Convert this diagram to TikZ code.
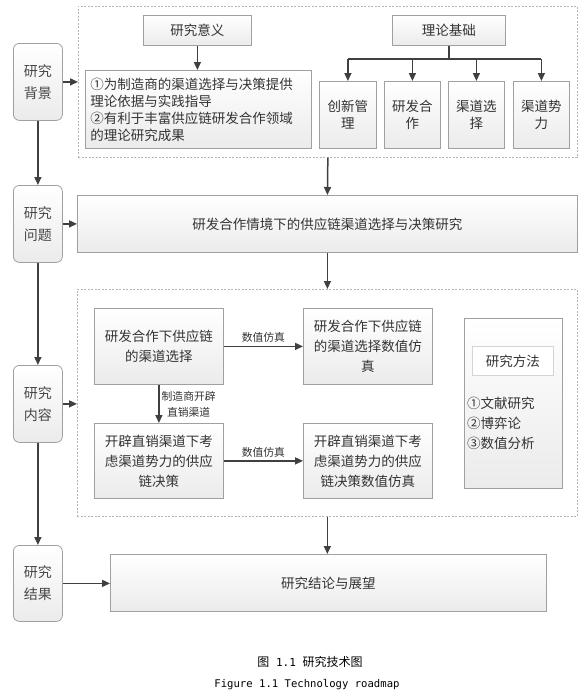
\documentclass[tikz,border=0pt]{standalone}
\usepackage{fontspec}
\setmainfont{Noto Sans CJK SC}
\newfontfamily\monof{DejaVu Sans Mono}
\usetikzlibrary{arrows.meta,shadings}
\definecolor{boxc}{HTML}{A0A0A0}
\definecolor{botc}{HTML}{EBEBEB}
\definecolor{txtc}{HTML}{333333}
\definecolor{arrc}{HTML}{404040}
\definecolor{dashc}{HTML}{B4B4B4}
\definecolor{innc}{HTML}{D4D4D4}
\newcommand\myfs[2]{\fontsize{#1}{#2}\selectfont}
\tikzset{
  gbox/.style={draw=boxc, line width=0.8pt, top color=white, bottom color=botc,
    inner sep=0pt, text=txtc, align=center, anchor=north west, font=\myfs{13.5}{20}},
  lbox/.style={gbox, rounded corners=6pt, font=\myfs{14}{22}, text=txtc!90!white},
  arr/.style={draw=arrc, line width=1.5pt, -{Triangle[length=8pt,width=7pt]}},
  plainline/.style={draw=arrc, line width=1.5pt},
  dbox/.style={draw=dashc, line width=0.7pt, dash pattern=on 2pt off 1.5pt,
    anchor=north west, inner sep=0pt},
  lab/.style={font=\myfs{10.8}{16}, text=txtc, inner sep=2pt, align=center}
}
\begin{document}
\begin{tikzpicture}[x=1pt,y=-1pt]
\useasboundingbox (0,0) rectangle (587,696);
% left column
\node[lbox, minimum width=49pt, minimum height=77pt] (bg) at (13,43) {研究\\背景};
\node[lbox, minimum width=49pt, minimum height=77pt] (wt) at (13,185) {研究\\问题};
\node[lbox, minimum width=49pt, minimum height=77pt] (nr) at (13,365) {研究\\内容};
\node[lbox, minimum width=49pt, minimum height=76pt] (jg) at (13,545) {研究\\结果};
% dashed group 1
\node[dbox, minimum width=499pt, minimum height=151pt] (d1) at (78,6) {};
\node[gbox, minimum width=108pt, minimum height=30pt] (yiyi) at (143,15) {研究意义};
\node[gbox, minimum width=226pt, minimum height=78pt, align=left, text width=216pt,
  inner xsep=5pt, font=\myfs{13.5}{17}] (yyt) at (85,70)
  {①为制造商的渠道选择与决策提供\\理论依据与实践指导\\②有利于丰富供应链研发合作领域\\的理论研究成果};
\node[gbox, minimum width=113pt, minimum height=30pt] (lljc) at (392,15) {理论基础};
\node[gbox, minimum width=57pt, minimum height=67pt, font=\myfs{13.5}{17}] (t1) at (319,81) {创新管\\理};
\node[gbox, minimum width=56pt, minimum height=67pt, font=\myfs{13.5}{17}] (t2) at (384,81) {研发合\\作};
\node[gbox, minimum width=56pt, minimum height=67pt, font=\myfs{13.5}{17}] (t3) at (448,81) {渠道选\\择};
\node[gbox, minimum width=56pt, minimum height=67pt, font=\myfs{13.5}{17}] (t4) at (513,81) {渠道势\\力};
% main problem
\node[gbox, minimum width=500pt, minimum height=57pt] (main) at (77,195) {研发合作情境下的供应链渠道选择与决策研究};
% dashed group 2
\node[dbox, minimum width=500pt, minimum height=227pt] (d2) at (77,289) {};
\node[gbox, minimum width=129pt, minimum height=76pt] (A) at (94,308) {研发合作下供应链\\的渠道选择};
\node[gbox, minimum width=129pt, minimum height=76pt] (B) at (303,308) {研发合作下供应链\\的渠道选择数值仿\\真};
\node[gbox, minimum width=129pt, minimum height=75pt] (C) at (94,423) {开辟直销渠道下考\\虑渠道势力的供应\\链决策};
\node[gbox, minimum width=129pt, minimum height=75pt] (D) at (303,423) {开辟直销渠道下考\\虑渠道势力的供应\\链决策数值仿真};
\node[gbox, minimum width=98pt, minimum height=170pt] (M) at (464,318) {};
\node[draw=innc, line width=0.8pt, fill=white, anchor=north west, inner sep=0pt,
  minimum width=81pt, minimum height=29pt, text=txtc, font=\myfs{13.5}{20}] (Mh) at (472,346) {研究方法};
\node[anchor=west, align=left, inner sep=0pt, text=txtc, font=\myfs{13.5}{20}] (Mt) at (467,423)
  {①文献研究\\②博弈论\\③数值分析};
% result
\node[gbox, minimum width=436pt, minimum height=57pt] (res) at (110,554) {研究结论与展望};
% captions
\node[inner sep=0pt, text=black, font=\myfs{12}{14}] (cap1) at (310,662) {图{\monof\myfs{11}{14} 1.1 }研究技术图};
\node[inner sep=0pt, text=black, font=\monof\myfs{10.6}{14}] (cap2) at (307,685) {Figure 1.1 Technology roadmap};
% connectors left column
\draw[arr] (bg.south) -- (wt.north);
\draw[arr] (wt.south) -- (nr.north);
\draw[arr] (nr.south) -- (jg.north);
\draw[arr] (bg.east) -- (bg.east -| d1.west);
\draw[arr] (wt.east) -- (wt.east -| main.west);
\draw[arr] (nr.east) -- (nr.east -| d2.west);
\draw[arr] (jg.east) -- (jg.east -| res.west);
% group 1
\draw[arr] (yiyi.south) -- (yiyi.south |- yyt.north);
\coordinate (bj) at (448.5,59);
\draw[plainline] (lljc.south) -- (lljc.south |- bj);
\draw[plainline] (t1.north |- bj) -- (t4.north |- bj);
\foreach \t in {t1,t2,t3,t4} \draw[arr] (\t.north |- bj) -- (\t.north);
% vertical main flow
\draw[arr] (d1.south) -- (main.north);
\draw[arr] (main.south) -- (main.south |- d2.north);
\draw[arr] (d2.south) -- (d2.south |- res.north);
% group 2
\draw[arr] (A.east) -- node[lab, above, yshift=1pt] {数值仿真} (A.east -| B.west);
\draw[arr] (C.east) -- node[lab, above, yshift=1pt] {数值仿真} (C.east -| D.west);
\draw[arr] (A.south) -- node[lab, right] {制造商开辟\\直销渠道} (A.south |- C.north);
\end{tikzpicture}
\end{document}
